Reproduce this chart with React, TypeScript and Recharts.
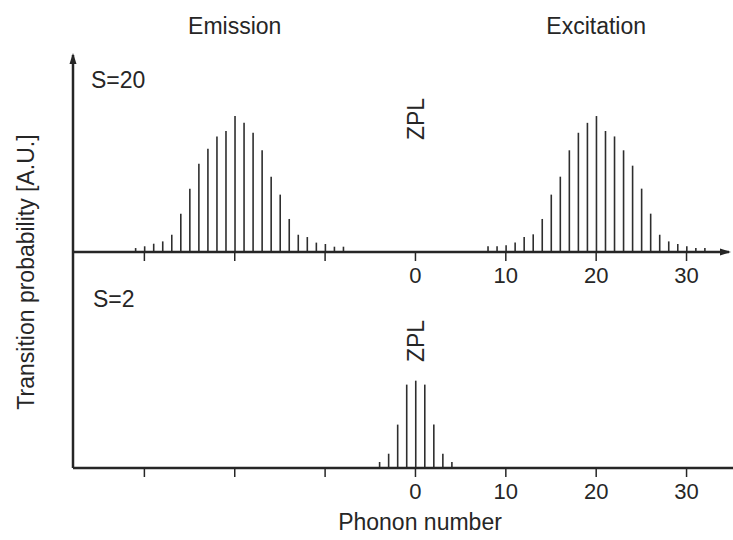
import React from "react";
import {
  ComposedChart,
  Bar,
  XAxis,
  YAxis,
  ReferenceDot,
  ReferenceLine,
} from "recharts";

// phonon numbers and relative transition probabilities (A.U., peak of S=20 = 100)
const emissionPhonons = [-31, -30, -29, -28, -27, -26, -25, -24, -23, -22, -21, -20, -19, -18, -17, -16, -15, -14, -13, -12, -11, -10, -9, -8];
const emissionProb = [2.9, 4.2, 6.1, 7.8, 12.7, 28.2, 46.6, 65, 76, 85, 89, 100, 95, 87.7, 74.8, 55.4, 42.2, 24.3, 12.7, 11, 6.9, 5.9, 3.9, 3.9];

const excitationPhonons = [8, 9, 10, 11, 12, 13, 14, 15, 16, 17, 18, 19, 20, 21, 22, 23, 24, 25, 26, 27, 28, 29, 30, 31, 32];
const excitationProb = [4.2, 4.2, 4.9, 6.9, 11, 13, 24.3, 42.2, 55.4, 74.8, 87.7, 95, 100, 89, 85, 74.8, 63.5, 46.6, 28.2, 12.7, 7.8, 5.9, 4.2, 2.9, 2.9];

const s2Phonons = [-4, -3, -2, -1, 0, 1, 2, 3, 4];
const s2Prob = [4.4, 10.5, 31.9, 61.3, 64.2, 61.3, 31.9, 10.5, 4.4];

const xTicks = [-30, -20, -10, 0, 10, 20, 30];

const topData = [
  ...emissionPhonons.map((n, i) => ({ n, p: emissionProb[i] })),
  ...excitationPhonons.map((n, i) => ({ n, p: excitationProb[i] })),
];
const bottomData = s2Phonons.map((n, i) => ({ n, p: s2Prob[i] }));

const W = 733;
const H = 540;
const FONT = "'Liberation Sans', Arial, Helvetica, sans-serif";
const INK = "#262626";
const X_MIN = -37.9;
const TOP_X_MAX = 34.7;
const BOTTOM_X_MAX = 35.14;
const TOP_Y_MAX = 144.9;
const BOTTOM_Y_MAX = 158.8;

const tickFmt = (v: number) => (v < 0 ? "" : String(v));

const textShape = (text: string, dy: number, rotate = false) => (props: any) => {
  const { cx, cy } = props;
  const y = cy + dy;
  return (
    <text
      x={cx}
      y={y}
      textAnchor="middle"
      dy={rotate ? "0.35em" : 0}
      transform={rotate ? `rotate(-90 ${cx} ${y})` : undefined}
      fontFamily={FONT}
      fontSize={23}
      fill={INK}
    >
      {text}
    </text>
  );
};

const arrowUp = (props: any) => {
  const { cx, cy } = props;
  return <path d={`M${cx - 3.5},${cy + 9} L${cx},${cy - 2} L${cx + 3.5},${cy + 9} Z`} fill={INK} />;
};

const arrowRight = (props: any) => {
  const { cx, cy } = props;
  return <path d={`M${cx - 9},${cy - 3.5} L${cx + 2},${cy} L${cx - 9},${cy + 3.5} Z`} fill={INK} />;
};

const axisLine = { stroke: INK, strokeWidth: 2.5 };
const tickLine = { stroke: INK, strokeWidth: 1.5 };
const tickStyle = { fontSize: 22, fill: INK, fontFamily: FONT };

function Panel({
  data,
  top,
  bottom,
  right,
  xMax,
  yMax,
  children,
}: {
  data: { n: number; p: number }[];
  top: number;
  bottom: number;
  right: number;
  xMax: number;
  yMax: number;
  children?: React.ReactNode;
}) {
  return (
    <div style={{ position: "absolute", left: 0, top: 0 }}>
      <ComposedChart width={W} height={H} data={data} margin={{ top, right, bottom, left: 73 }}>
        <XAxis
          dataKey="n"
          type="number"
          domain={[X_MIN, xMax]}
          ticks={xTicks}
          tickFormatter={tickFmt}
          axisLine={axisLine}
          tickLine={tickLine}
          tickSize={9}
          tickMargin={6}
          tick={tickStyle}
          height={40}
          interval={0}
          allowDataOverflow
        />
        <YAxis type="number" domain={[0, yMax]} width={0} hide allowDataOverflow />
        <ReferenceLine x={X_MIN} stroke={INK} strokeWidth={2.5} />
        <Bar dataKey="p" barSize={1.6} fill="#2e2e2e" isAnimationActive={false} />
        {children}
      </ComposedChart>
    </div>
  );
}

export default function App() {
  return (
    <div style={{ position: "absolute", left: 0, top: 0, width: W, height: H, background: "#fff" }}>
      <Panel data={topData} top={55} bottom={540 - 252 - 40} right={4} xMax={TOP_X_MAX} yMax={TOP_Y_MAX}>
        <ReferenceDot x={X_MIN} y={TOP_Y_MAX} shape={arrowUp} />
        <ReferenceDot x={TOP_X_MAX} y={0} shape={arrowRight} />
        <ReferenceDot x={-20} y={TOP_Y_MAX} shape={textShape("Emission", -21)} />
        <ReferenceDot x={20} y={TOP_Y_MAX} shape={textShape("Excitation", -21)} />
        <ReferenceDot x={0} y={TOP_Y_MAX} shape={textShape("ZPL", 64, true)} />
      </Panel>
      <Panel data={bottomData} top={252} bottom={540 - 468 - 40} right={0} xMax={BOTTOM_X_MAX} yMax={BOTTOM_Y_MAX}>
        <ReferenceDot x={0} y={BOTTOM_Y_MAX} shape={textShape("ZPL", 89, true)} />
      </Panel>
      <svg
        width={W}
        height={H}
        style={{ position: "absolute", left: 0, top: 0, pointerEvents: "none" }}
        fontFamily={FONT}
        fontSize={23}
        fill={INK}
      >
        <text x={91} y={88}>S=20</text>
        <text x={93} y={307}>S=2</text>
        <text x={420} y={530} textAnchor="middle">Phonon number</text>
        <text x={26} y={272} textAnchor="middle" dy="0.35em" transform="rotate(-90 26 272)">
          Transition probability [A.U.]
        </text>
      </svg>
    </div>
  );
}
